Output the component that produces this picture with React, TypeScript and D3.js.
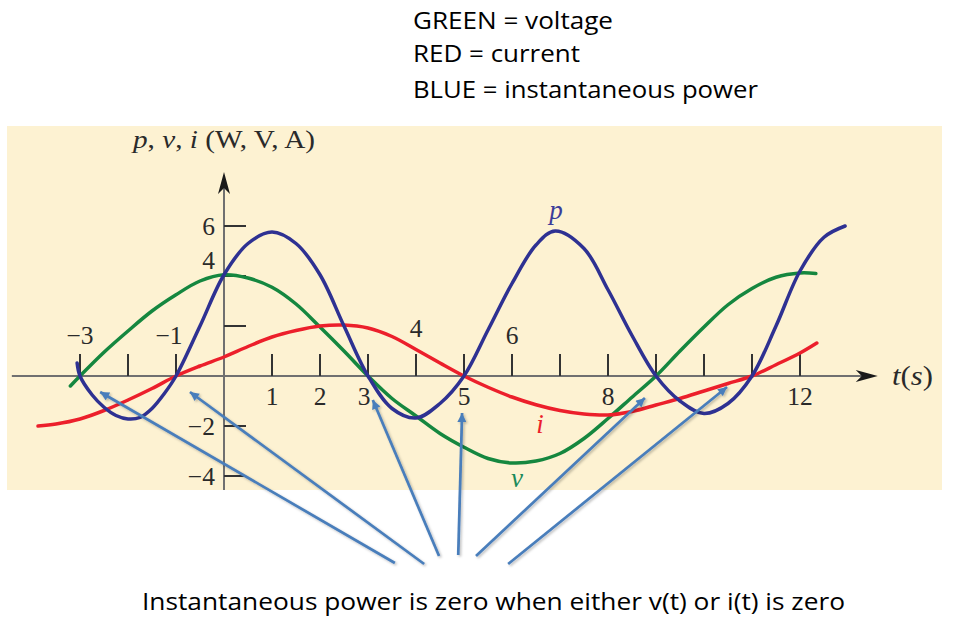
import * as d3 from 'd3';

// curve samples: [t (s), value]
const voltage: [number, number][] = [
  [-3.2, -0.4], [-3, 0], [-2.5, 0.95], [-2, 1.8], [-1.5, 2.6], [-1, 3.25], [-0.5, 3.8],
  [0, 4.05], [0.5, 3.92], [1, 3.55], [1.5, 2.88], [2, 1.96], [2.5, 1.0], [3, 0],
  [3.5, -0.9], [4, -1.6], [4.5, -2.3], [5, -2.85], [5.5, -3.3], [6, -3.48], [6.5, -3.4],
  [7, -3.1], [7.5, -2.5], [8, -1.7], [8.5, -0.85], [9, 0], [9.5, 1.0], [10, 1.96],
  [10.5, 2.85], [11, 3.5], [11.5, 3.95], [12, 4.12], [12.33, 4.1],
];

const current: [number, number][] = [
  [-3.875, -2.0], [-3.5, -1.92], [-3, -1.72], [-2.5, -1.38], [-2, -0.96], [-1.5, -0.5],
  [-1, 0], [-0.5, 0.4], [0, 0.76], [0.5, 1.18], [1, 1.56], [1.5, 1.82], [2, 2.0],
  [2.5, 2.04], [3, 1.92], [3.5, 1.58], [4, 1.06], [4.5, 0.52], [5, 0], [5.5, -0.45],
  [6, -0.84], [6.5, -1.15], [7, -1.38], [7.5, -1.52], [8, -1.56], [8.5, -1.42],
  [9, -1.16], [9.5, -0.9], [10, -0.6], [10.5, -0.3], [11, 0], [11.5, 0.45], [12, 0.92],
  [12.35, 1.32],
];

const power: [number, number][] = [
  [-3.06, 0.52], [-3, 0], [-2.75, -0.75], [-2.5, -1.25], [-2.25, -1.58], [-2, -1.72],
  [-1.75, -1.66], [-1.5, -1.3], [-1.25, -0.72], [-1, 0], [-0.5, 2.0], [0, 4.05],
  [0.5, 5.3], [1, 5.76], [1.5, 5.3], [2, 4.05], [2.5, 2.0], [3, 0], [3.5, -1.3],
  [4, -1.68], [4.5, -1.1], [5, 0], [5.5, 1.84], [6, 3.7], [6.5, 5.24], [6.9, 5.8],
  [7.5, 5.1], [8, 3.45], [8.5, 1.62], [9, 0], [9.5, -1.0], [10, -1.5], [10.5, -1.1],
  [11, 0], [11.5, 2.0], [12, 4.2], [12.5, 5.55], [12.94, 6.0],
];

const xTicks = [-3, -2, -1, 1, 2, 3, 4, 5, 6, 7, 8, 9, 10, 11, 12];
const xLabelsAbove = [-3, -1, 4, 6];
const xLabelsBelow = [1, 2, 3, 5, 8, 12];
const yTicks = [6, 4, 2, -2, -4];
const yLabels = [6, 4, -2, -4];

const legendLines = ['GREEN = voltage', 'RED = current', 'BLUE = instantaneous power'];
const caption = 'Instantaneous power is zero when either v(t) or i(t) is zero';

// annotation arrows (data units): tail near caption -> tip near a zero of p
const arrows = [
  { tailT: 3.56, tailV: -7.48, tipT: -2.58, tipV: -0.64 },
  { tailT: 4.17, tailV: -7.52, tipT: -0.71, tipV: -0.64 },
  { tailT: 4.48, tailV: -7.2, tipT: 3.1, tipV: -0.96 },
  { tailT: 4.88, tailV: -7.16, tipT: 4.96, tipV: -1.48 },
  { tailT: 5.25, tailV: -7.2, tipT: 8.77, tipV: -0.88 },
  { tailT: 5.92, tailV: -7.52, tipT: 10.48, tipV: -0.44 },
];

const GREEN = '#15873f';
const RED = '#ec1f2b';
const BLUE = '#2e3192';
const SERIF = '"Liberation Serif", "Times New Roman", serif';
const SANS = '"Open Sans", "Noto Sans", sans-serif';

export default function App() {
  const x = d3.scaleLinear().domain([0, 12]).range([224, 800]);
  const y = d3.scaleLinear().domain([0, 6]).range([376, 226]);

  const line = d3
    .line<[number, number]>()
    .x((d) => x(d[0]))
    .y((d) => y(d[1]))
    .curve(d3.curveCatmullRom.alpha(0.5));

  const x0 = x(-4.42);
  const xEnd = x(13.62);
  const yTop = y(8.16);
  const yBottom = 490;

  const fmt = (n: number) => (n < 0 ? '\u2212' + Math.abs(n) : String(n));

  return (
    <svg width={957} height={625} style={{ position: 'absolute', left: 0, top: 0 }}>
      <defs>
        <marker id="ah" viewBox="0 0 10 10" refX="10" refY="5" markerWidth="11" markerHeight="9"
          markerUnits="userSpaceOnUse" orient="auto">
          <path d="M0,0 L10,5 L0,10 Z" fill="#4a7ebb" />
        </marker>
        <filter id="sh" x="-10%" y="-10%" width="120%" height="120%">
          <feDropShadow dx="1.5" dy="1.5" stdDeviation="1" floodColor="#000" floodOpacity="0.25" />
        </filter>
      </defs>

      <rect x={7} y={126} width={935} height={364} fill="#fdf2d2" />

      {/* legend */}
      {legendLines.map((s, i) => (
        <text key={s} x={413} y={[28.5, 62, 98][i]} fontFamily={SANS} fontSize={23.5} fill="#000"
          textLength={[200, 167, 345][i]} lengthAdjust="spacingAndGlyphs">
          {s}
        </text>
      ))}

      {/* axes */}
      <line x1={x0} x2={xEnd - 14} y1={y(0)} y2={y(0)} stroke="#707070" strokeWidth={2} />
      <path d={`M${xEnd},${y(0)} L${xEnd - 22},${y(0) - 6} L${xEnd - 16},${y(0)} L${xEnd - 22},${y(0) + 6} Z`}
        fill="#1a1a1a" />
      <line x1={x(0)} x2={x(0)} y1={yBottom} y2={yTop + 14} stroke="#707070" strokeWidth={2} />
      <path d={`M${x(0)},${yTop} L${x(0) - 6},${yTop + 22} L${x(0)},${yTop + 16} L${x(0) + 6},${yTop + 22} Z`}
        fill="#1a1a1a" />

      {xTicks.map((t) => (
        <line key={'xt' + t} x1={x(t)} x2={x(t)} y1={y(0)} y2={y(0) - 22} stroke="#333" strokeWidth={2} />
      ))}
      {yTicks.map((v) => (
        <line key={'yt' + v} x1={x(0)} x2={x(0) + 22} y1={y(v)} y2={y(v)} stroke="#333" strokeWidth={2} />
      ))}

      <g fontFamily={SERIF} fontSize={25.5} fill="#2a2a2a">
        {xLabelsAbove.map((t) => (
          <text key={'xa' + t} x={x(t) + (t === -1 ? -7 : 0)} y={t === 4 ? 337 : 344} textAnchor="middle">
            {fmt(t)}
          </text>
        ))}
        {xLabelsBelow.map((t) => (
          <text key={'xb' + t} x={x(t) + (t === 3 ? -4 : 0)} y={405} textAnchor="middle">
            {fmt(t)}
          </text>
        ))}
        {yLabels.map((v) => (
          <text key={'yl' + v} x={x(0) - 9} y={y(v) + (v === 4 ? -7 : 8.5)} textAnchor="end">
            {fmt(v)}
          </text>
        ))}
        <text x={133} y={148} fontSize={26} textLength={182} lengthAdjust="spacingAndGlyphs">
          <tspan fontStyle="italic">p</tspan>, <tspan fontStyle="italic">v</tspan>,{' '}
          <tspan fontStyle="italic">i</tspan> (W, V, A)
        </text>
        <text x={892} y={385} fontSize={28} textLength={41} lengthAdjust="spacingAndGlyphs">
          <tspan fontStyle="italic">t</tspan>(<tspan fontStyle="italic">s</tspan>)
        </text>
      </g>

      {/* curves */}
      <path d={line(voltage) ?? ''} fill="none" stroke={GREEN} strokeWidth={3.5} strokeLinecap="round" />
      <path d={line(current) ?? ''} fill="none" stroke={RED} strokeWidth={3.5} strokeLinecap="round" />
      <path d={line(power) ?? ''} fill="none" stroke={BLUE} strokeWidth={3.5} strokeLinecap="round" />

      <g fontFamily={SERIF} fontStyle="italic" fontSize={27} textAnchor="middle">
        <text x={556} y={219} fill="#3b3d9a">p</text>
        <text x={540} y={433} fill={RED}>i</text>
        <text x={517} y={487} fill="#1a8a5a">v</text>
      </g>

      {/* annotation arrows */}
      <g filter="url(#sh)">
        {arrows.map((a, i) => (
          <line key={'ar' + i} x1={x(a.tailT)} y1={y(a.tailV)} x2={x(a.tipT)} y2={y(a.tipV)}
            stroke="#4a7ebb" strokeWidth={2.75} markerEnd="url(#ah)" />
        ))}
      </g>

      <text x={142} y={610} fontFamily={SANS} fontSize={23.5} fill="#000" textLength={703}
        lengthAdjust="spacingAndGlyphs">
        {caption}
      </text>
    </svg>
  );
}
